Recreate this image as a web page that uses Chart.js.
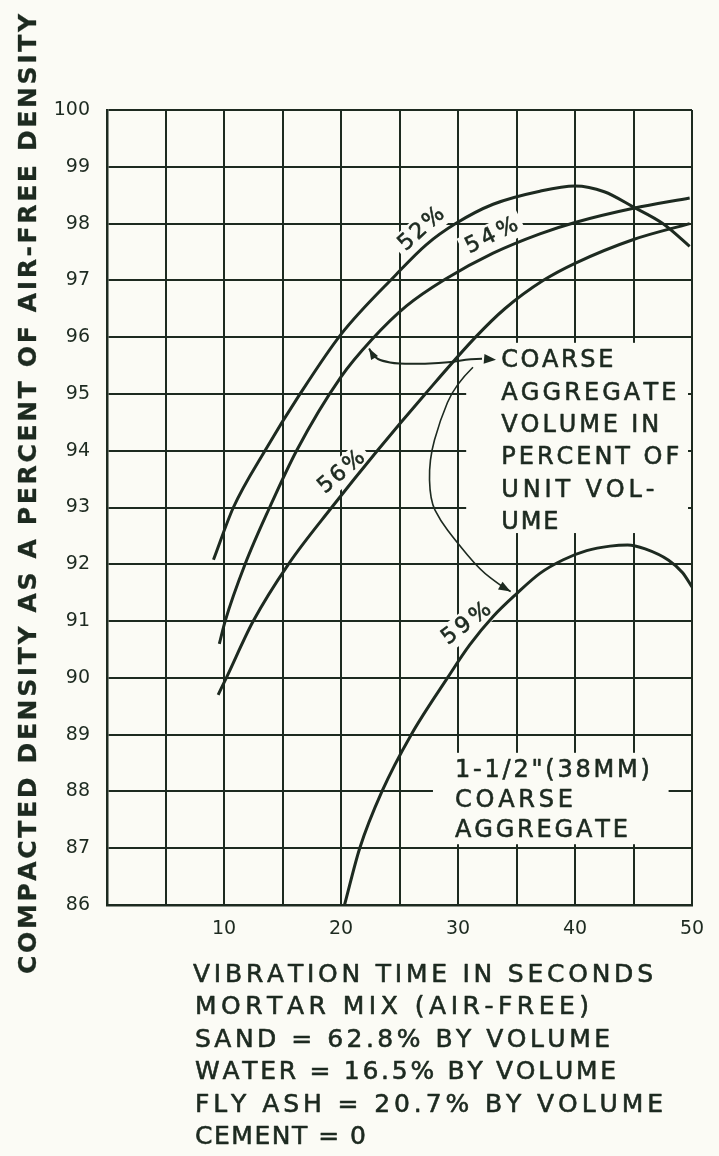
<!DOCTYPE html>
<html>
<head>
<meta charset="utf-8">
<title>Compacted density vs vibration time</title>
<script src="https://cdn.jsdelivr.net/npm/chart.js@4/dist/chart.umd.min.js"></script>
<style>
  html, body { margin: 0; padding: 0; background: #fbfbf5; }
  #wrap { width: 719px; height: 1156px; position: relative; }
</style>
</head>
<body>
<div id="wrap"><canvas id="chart" width="719" height="1156"></canvas></div>
<script>
// Vibration time (s) and compacted density (% of air-free) per coarse aggregate volume
const time52 = [9.1, 10.8, 13.5, 16.5, 20.0, 24.7, 27.3, 29.8, 33.0, 37.0, 40.0, 42.5, 45.0, 47.5, 49.8];
const density52 = [92.08, 93.0, 94.0, 95.0, 96.05, 97.1, 97.63, 98.0, 98.34, 98.57, 98.66, 98.56, 98.29, 98.0, 97.6];

const time54 = [9.6, 10.1, 11.8, 13.9, 16.2, 20.0, 22.6, 25.6, 28.9, 33.0, 37.0, 40.0, 45.0, 49.8];
const density54 = [90.6, 91.0, 92.0, 93.0, 94.0, 95.3, 95.95, 96.55, 97.02, 97.48, 97.82, 98.02, 98.27, 98.45];

const time56 = [9.5, 10.2, 12.5, 15.5, 19.2, 23.1, 27.2, 31.5, 34.0, 37.3, 40.0, 45.0, 49.8];
const density56 = [89.7, 90.0, 91.0, 92.0, 93.0, 94.0, 95.0, 96.0, 96.5, 97.0, 97.3, 97.72, 98.0];

const time59 = [20.3, 21.6, 23.5, 26.0, 29.1, 31.0, 33.0, 35.0, 37.0, 39.0, 41.0, 43.0, 44.5, 46.0, 48.0, 49.2, 50.0];
const density59 = [86.0, 87.0, 88.0, 89.0, 90.0, 90.58, 91.08, 91.48, 91.84, 92.08, 92.24, 92.32, 92.34, 92.27, 92.07, 91.85, 91.6];

const seriesNames = ['52%', '54%', '56%', '59%'];
const xTickLabels = [10, 20, 30, 40, 50];
const yTickValues = [86, 87, 88, 89, 90, 91, 92, 93, 94, 95, 96, 97, 98, 99, 100];

const yTitle = 'COMPACTED DENSITY AS A PERCENT OF AIR-FREE DENSITY';
const noteLines = [
  'VIBRATION TIME IN SECONDS',
  'MORTAR MIX (AIR-FREE)',
  'SAND = 62.8% BY VOLUME',
  'WATER = 16.5% BY VOLUME',
  'FLY ASH = 20.7% BY VOLUME',
  'CEMENT = 0'
];
const volumeNote = ['COARSE', 'AGGREGATE', 'VOLUME IN', 'PERCENT OF', 'UNIT VOL-', 'UME'];
const sizeNote = ['1-1/2"(38MM)', 'COARSE', 'AGGREGATE'];

const INK = '#1d2a20';
const PAPER = '#fbfbf5';
const FONT = '"DejaVu Sans", "Liberation Sans", sans-serif';

const pairs = (xs, ys) => xs.map((x, i) => ({ x, y: ys[i] }));
const seriesData = [
  pairs(time52, density52),
  pairs(time54, density54),
  pairs(time56, density56),
  pairs(time59, density59)
];

// Draw a string char by char, stretched to a given width (hand-lettered look)
function spacedText(ctx, text, x, y, width, weight) {
  const chars = Array.from(text);
  const ws = chars.map(c => ctx.measureText(c).width);
  const total = ws.reduce((a, b) => a + b, 0);
  const gap = chars.length > 1 ? (width - total) / (chars.length - 1) : 0;
  let cx = x;
  ctx.lineWidth = weight || 0.6;
  ctx.lineJoin = 'round';
  chars.forEach((c, i) => {
    ctx.fillText(c, cx, y);
    ctx.strokeText(c, cx, y);
    cx += ws[i] + gap;
  });
}

// Curve tags: position in data units, angle in degrees, lettered width in px
const curveTags = [
  { text: '52%', x: 26.9, y: 97.9, angle: -42, width: 54 },
  { text: '54%', x: 32.9, y: 97.78, angle: -26, width: 56 },
  { text: '56%', x: 20.06, y: 93.62, angle: -40, width: 54 },
  { text: '59%', x: 30.74, y: 90.95, angle: -37, width: 56 }
];

// Clear patches behind the two notes (data units)
const notePatches = [
  { x0: 30.7, x1: 49.66, y0: 95.9, y1: 92.55 },
  { x0: 27.86, x1: 48.0, y0: 88.68, y1: 87.07 }
];

// Leader lines from the volume note to the curves (data units)
const leaderTo54 = [
  [32.05, 95.62], [31.03, 95.62], [29.49, 95.56], [27.18, 95.53],
  [24.87, 95.53], [23.50, 95.58], [22.82, 95.65], [22.4, 95.8]
];
const leaderTo59 = [
  [31.28, 95.47], [29.74, 95.16], [28.46, 94.54], [27.52, 93.84],
  [27.61, 93.13], [28.46, 92.78], [29.74, 92.43], [31.88, 91.90],
  [33.74, 91.61], [34.5, 91.52]
];
const leaderTip = [33.25, 95.60];

function arrowHead(ctx, from, to, len, half) {
  const a = Math.atan2(to[1] - from[1], to[0] - from[0]);
  ctx.beginPath();
  ctx.moveTo(to[0], to[1]);
  ctx.lineTo(to[0] - len * Math.cos(a) + half * Math.sin(a), to[1] - len * Math.sin(a) - half * Math.cos(a));
  ctx.lineTo(to[0] - len * Math.cos(a) - half * Math.sin(a), to[1] - len * Math.sin(a) + half * Math.cos(a));
  ctx.closePath();
  ctx.fill();
}

function smoothPath(ctx, pts) {
  ctx.beginPath();
  ctx.moveTo(pts[0][0], pts[0][1]);
  for (let i = 1; i < pts.length - 1; i++) {
    const mx = (pts[i][0] + pts[i + 1][0]) / 2;
    const my = (pts[i][1] + pts[i + 1][1]) / 2;
    ctx.quadraticCurveTo(pts[i][0], pts[i][1], mx, my);
  }
  const last = pts[pts.length - 1];
  ctx.lineTo(last[0], last[1]);
  ctx.stroke();
}

const paperPlugin = {
  id: 'paper',
  beforeDraw(chart) {
    const ctx = chart.ctx;
    ctx.save();
    ctx.fillStyle = PAPER;
    ctx.fillRect(0, 0, chart.width, chart.height);
    ctx.restore();
  },
  beforeDatasetsDraw(chart) {
    const { ctx, scales: { x, y } } = chart;
    ctx.save();
    ctx.fillStyle = PAPER;
    notePatches.forEach(p => {
      const l = x.getPixelForValue(p.x0), r = x.getPixelForValue(p.x1);
      const t = y.getPixelForValue(p.y0), b = y.getPixelForValue(p.y1);
      ctx.fillRect(l, t, r - l, b - t);
    });
    curveTags.forEach(tag => {
      ctx.save();
      ctx.translate(x.getPixelForValue(tag.x), y.getPixelForValue(tag.y));
      ctx.rotate(tag.angle * Math.PI / 180);
      ctx.fillRect(-tag.width / 2 - 5, -13, tag.width + 10, 26);
      ctx.restore();
    });
    ctx.restore();
  },
  afterDatasetsDraw(chart) {
    const { ctx, scales: { x, y } } = chart;
    const px = p => [x.getPixelForValue(p[0]), y.getPixelForValue(p[1])];
    ctx.save();
    ctx.fillStyle = INK;
    ctx.strokeStyle = INK;

    // curve tags
    ctx.font = '22px ' + FONT;
    ctx.textBaseline = 'middle';
    ctx.textAlign = 'left';
    curveTags.forEach(tag => {
      ctx.save();
      ctx.translate(x.getPixelForValue(tag.x), y.getPixelForValue(tag.y));
      ctx.rotate(tag.angle * Math.PI / 180);
      spacedText(ctx, tag.text, -tag.width / 2, 0, tag.width);
      ctx.restore();
    });

    // volume note
    ctx.font = '24px ' + FONT;
    const vWidths = [112, 175, 158, 178, 153, 57];
    const vx = x.getPixelForValue(33.7);
    const vy = y.getPixelForValue(95.58);
    volumeNote.forEach((line, i) => spacedText(ctx, line, vx, vy + i * 32.4, vWidths[i]));

    // aggregate size note
    const sWidths = [195, 118, 173];
    const sx = x.getPixelForValue(29.74);
    const sy = y.getPixelForValue(88.36);
    sizeNote.forEach((line, i) => spacedText(ctx, line, sx, sy + i * 30, sWidths[i]));

    // leaders
    ctx.lineWidth = 2;
    const l54 = leaderTo54.map(px);
    smoothPath(ctx, l54);
    arrowHead(ctx, l54[l54.length - 2], l54[l54.length - 1], 11, 4);
    arrowHead(ctx, l54[0], px(leaderTip), 12, 5);
    ctx.lineWidth = 1.6;
    const l59 = leaderTo59.map(px);
    smoothPath(ctx, l59);
    arrowHead(ctx, l59[l59.length - 2], l59[l59.length - 1], 12, 4.5);
    ctx.restore();
  },
  afterDraw(chart) {
    const ctx = chart.ctx;
    ctx.save();
    ctx.fillStyle = INK;
    ctx.strokeStyle = INK;
    ctx.textBaseline = 'middle';
    ctx.textAlign = 'left';

    // vertical axis title
    ctx.font = 'bold 25px ' + FONT;
    ctx.translate(29, 974);
    ctx.rotate(-Math.PI / 2);
    spacedText(ctx, yTitle, 0, 0, 960, 0.3);
    ctx.restore();

    // notes under the horizontal axis
    ctx.save();
    ctx.fillStyle = INK;
    ctx.strokeStyle = INK;
    ctx.textBaseline = 'middle';
    ctx.font = '25px ' + FONT;
    const nWidths = [460, 394, 415, 421, 468, 171];
    const nLeft = [193, 195, 195, 195, 195, 195];
    noteLines.forEach((line, i) => spacedText(ctx, line, nLeft[i], 975 + i * 32.5, nWidths[i]));
    ctx.restore();
  }
};

new Chart(document.getElementById('chart'), {
  type: 'line',
  data: {
    datasets: seriesData.map((d, i) => ({
      label: seriesNames[i],
      data: d,
      borderColor: INK,
      borderWidth: 3,
      pointRadius: 0,
      fill: false,
      cubicInterpolationMode: 'monotone'
    }))
  },
  options: {
    responsive: false,
    devicePixelRatio: 1,
    animation: false,
    layout: { padding: { left: 0, top: 110, right: 27, bottom: 211 } },
    scales: {
      x: {
        type: 'linear',
        min: 0,
        max: 50,
        afterFit(scale) { scale.height = 40; },
        afterBuildTicks(scale) {
          scale.ticks = [0, 5, 10, 15, 20, 25, 30, 35, 40, 45, 50].map(v => ({ value: v }));
        },
        ticks: {
          autoSkip: false,
          maxRotation: 0,
          padding: 13,
          color: INK,
          font: { family: FONT, size: 19 },
          callback: v => (xTickLabels.includes(v) ? String(v) : '')
        },
        grid: { color: INK, lineWidth: 2, drawTicks: false },
        border: { color: INK, width: 2.5 }
      },
      y: {
        type: 'linear',
        min: 86,
        max: 100,
        afterFit(scale) { scale.width = 107; },
        afterBuildTicks(scale) {
          scale.ticks = yTickValues.map(v => ({ value: v }));
        },
        ticks: {
          autoSkip: false,
          padding: 17,
          color: INK,
          font: { family: FONT, size: 19 },
          callback: v => String(v)
        },
        grid: { color: INK, lineWidth: 2, drawTicks: false },
        border: { color: INK, width: 2.5 }
      }
    },
    plugins: {
      legend: { display: false },
      tooltip: { enabled: false }
    }
  },
  plugins: [paperPlugin]
});
</script>
</body>
</html>
